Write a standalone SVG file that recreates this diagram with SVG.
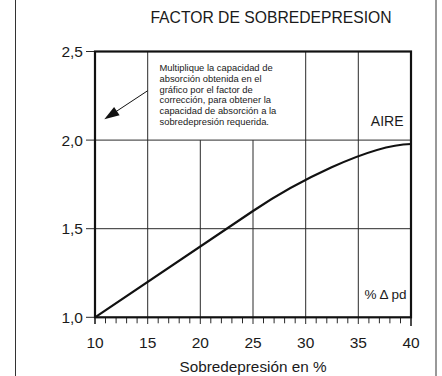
<svg xmlns="http://www.w3.org/2000/svg" width="442" height="376" viewBox="0 0 442 376">
<style>
text{font-family:"Liberation Sans",Arial,sans-serif;fill:#1a1a1a}
.grid{stroke:#2a2a2a;stroke-width:1;fill:none}
.tick{stroke:#2a2a2a;stroke-width:1}
.ax{stroke:#111;stroke-width:2.2;fill:none}
.num{font-size:15.5px}
.yl{text-anchor:end}
.xl{text-anchor:middle}
.note{font-size:9.4px}
</style>
<rect width="442" height="376" fill="#fff"/>
<g id="frame">
<line x1="15.5" y1="0" x2="15.5" y2="376" stroke="#333" stroke-width="1"/>
<line x1="436" y1="0" x2="436" y2="376" stroke="#333" stroke-width="1"/>
</g>
<text id="title" x="271" y="23.3" font-size="15.7" text-anchor="middle">FACTOR DE SOBREDEPRESION</text>
<g id="grid">
<line class="grid" x1="95" y1="140.1" x2="411" y2="140.1"/>
<line class="grid" x1="95" y1="228.7" x2="411" y2="228.7"/>
<line class="grid" x1="147.7" y1="51.5" x2="147.7" y2="324"/>
<line class="grid" x1="200.3" y1="140.1" x2="200.3" y2="324"/>
<line class="grid" x1="253" y1="140.1" x2="253" y2="324"/>
<line class="grid" x1="305.7" y1="51.5" x2="305.7" y2="324"/>
<line class="grid" x1="358.3" y1="51.5" x2="358.3" y2="324"/>
</g>
<g id="ticks">
<line class="tick" x1="86" y1="51.5" x2="95" y2="51.5"/>
<line class="tick" x1="86" y1="140.1" x2="95" y2="140.1"/>
<line class="tick" x1="86" y1="228.7" x2="95" y2="228.7"/>
<line class="tick" x1="86" y1="317.3" x2="95" y2="317.3"/>
<path class="tick" d="M105.5,317.3v6M116.1,317.3v6M126.6,317.3v6M137.1,317.3v6M158.2,317.3v6M168.7,317.3v6M179.2,317.3v6M189.8,317.3v6M210.8,317.3v6M221.4,317.3v6M231.9,317.3v6M242.5,317.3v6M263.5,317.3v6M274.1,317.3v6M284.6,317.3v6M295.2,317.3v6M316.2,317.3v6M326.8,317.3v6M337.3,317.3v6M347.8,317.3v6M368.9,317.3v6M379.4,317.3v6M389.9,317.3v6M400.5,317.3v6"/>
</g>
<g id="axes">
<rect class="ax" x="95" y="51.5" width="316" height="265.8"/>
<line x1="411" y1="317.3" x2="411" y2="326" stroke="#111" stroke-width="1.5"/>
<line x1="95" y1="317.3" x2="95" y2="324" stroke="#111" stroke-width="1.5"/>
</g>
<g id="curve">
<path d="M95,317.3 L253,211 C295,182.8 368,145 411,144" fill="none" stroke="#111" stroke-width="2.2"/>
</g>
<g id="ylabels" class="num">
<text class="yl" x="83" y="57">2,5</text>
<text class="yl" x="83" y="145.6">2,0</text>
<text class="yl" x="83" y="234.2">1,5</text>
<text class="yl" x="83" y="322.8">1,0</text>
</g>
<g id="xlabels" class="num">
<text class="xl" x="95" y="347.5">10</text>
<text class="xl" x="147.7" y="347.5">15</text>
<text class="xl" x="200.3" y="347.5">20</text>
<text class="xl" x="253" y="347.5">25</text>
<text class="xl" x="305.7" y="347.5">30</text>
<text class="xl" x="358.3" y="347.5">35</text>
<text class="xl" x="411" y="347.5">40</text>
</g>
<text id="xtitle" x="253" y="372" font-size="15.3" text-anchor="middle">Sobredepresión en %</text>
<text id="aire" x="403.5" y="126" font-size="14" text-anchor="end">AIRE</text>
<text id="pd" x="406.5" y="299.3" font-size="13.5" text-anchor="end">% Δ pd</text>
<g id="note">
<text class="note" x="159.5" y="70.9">Multiplique la capacidad de</text>
<text class="note" x="159.5" y="81.7">absorción obtenida en el</text>
<text class="note" x="159.5" y="92.5">gráfico por el factor de</text>
<text class="note" x="159.5" y="103.4">corrección, para obtener la</text>
<text class="note" x="159.5" y="114.3">capacidad de absorción a la</text>
<text class="note" x="159.5" y="125.2">sobredepresión requerida.</text>
</g>
<g id="connectors">
<line x1="147.7" y1="90.7" x2="116" y2="111.6" stroke="#111" stroke-width="1"/>
<polygon points="104.3,119.3 114.1,106.9 119.6,115.2" fill="#111"/>
</g>
</svg>
